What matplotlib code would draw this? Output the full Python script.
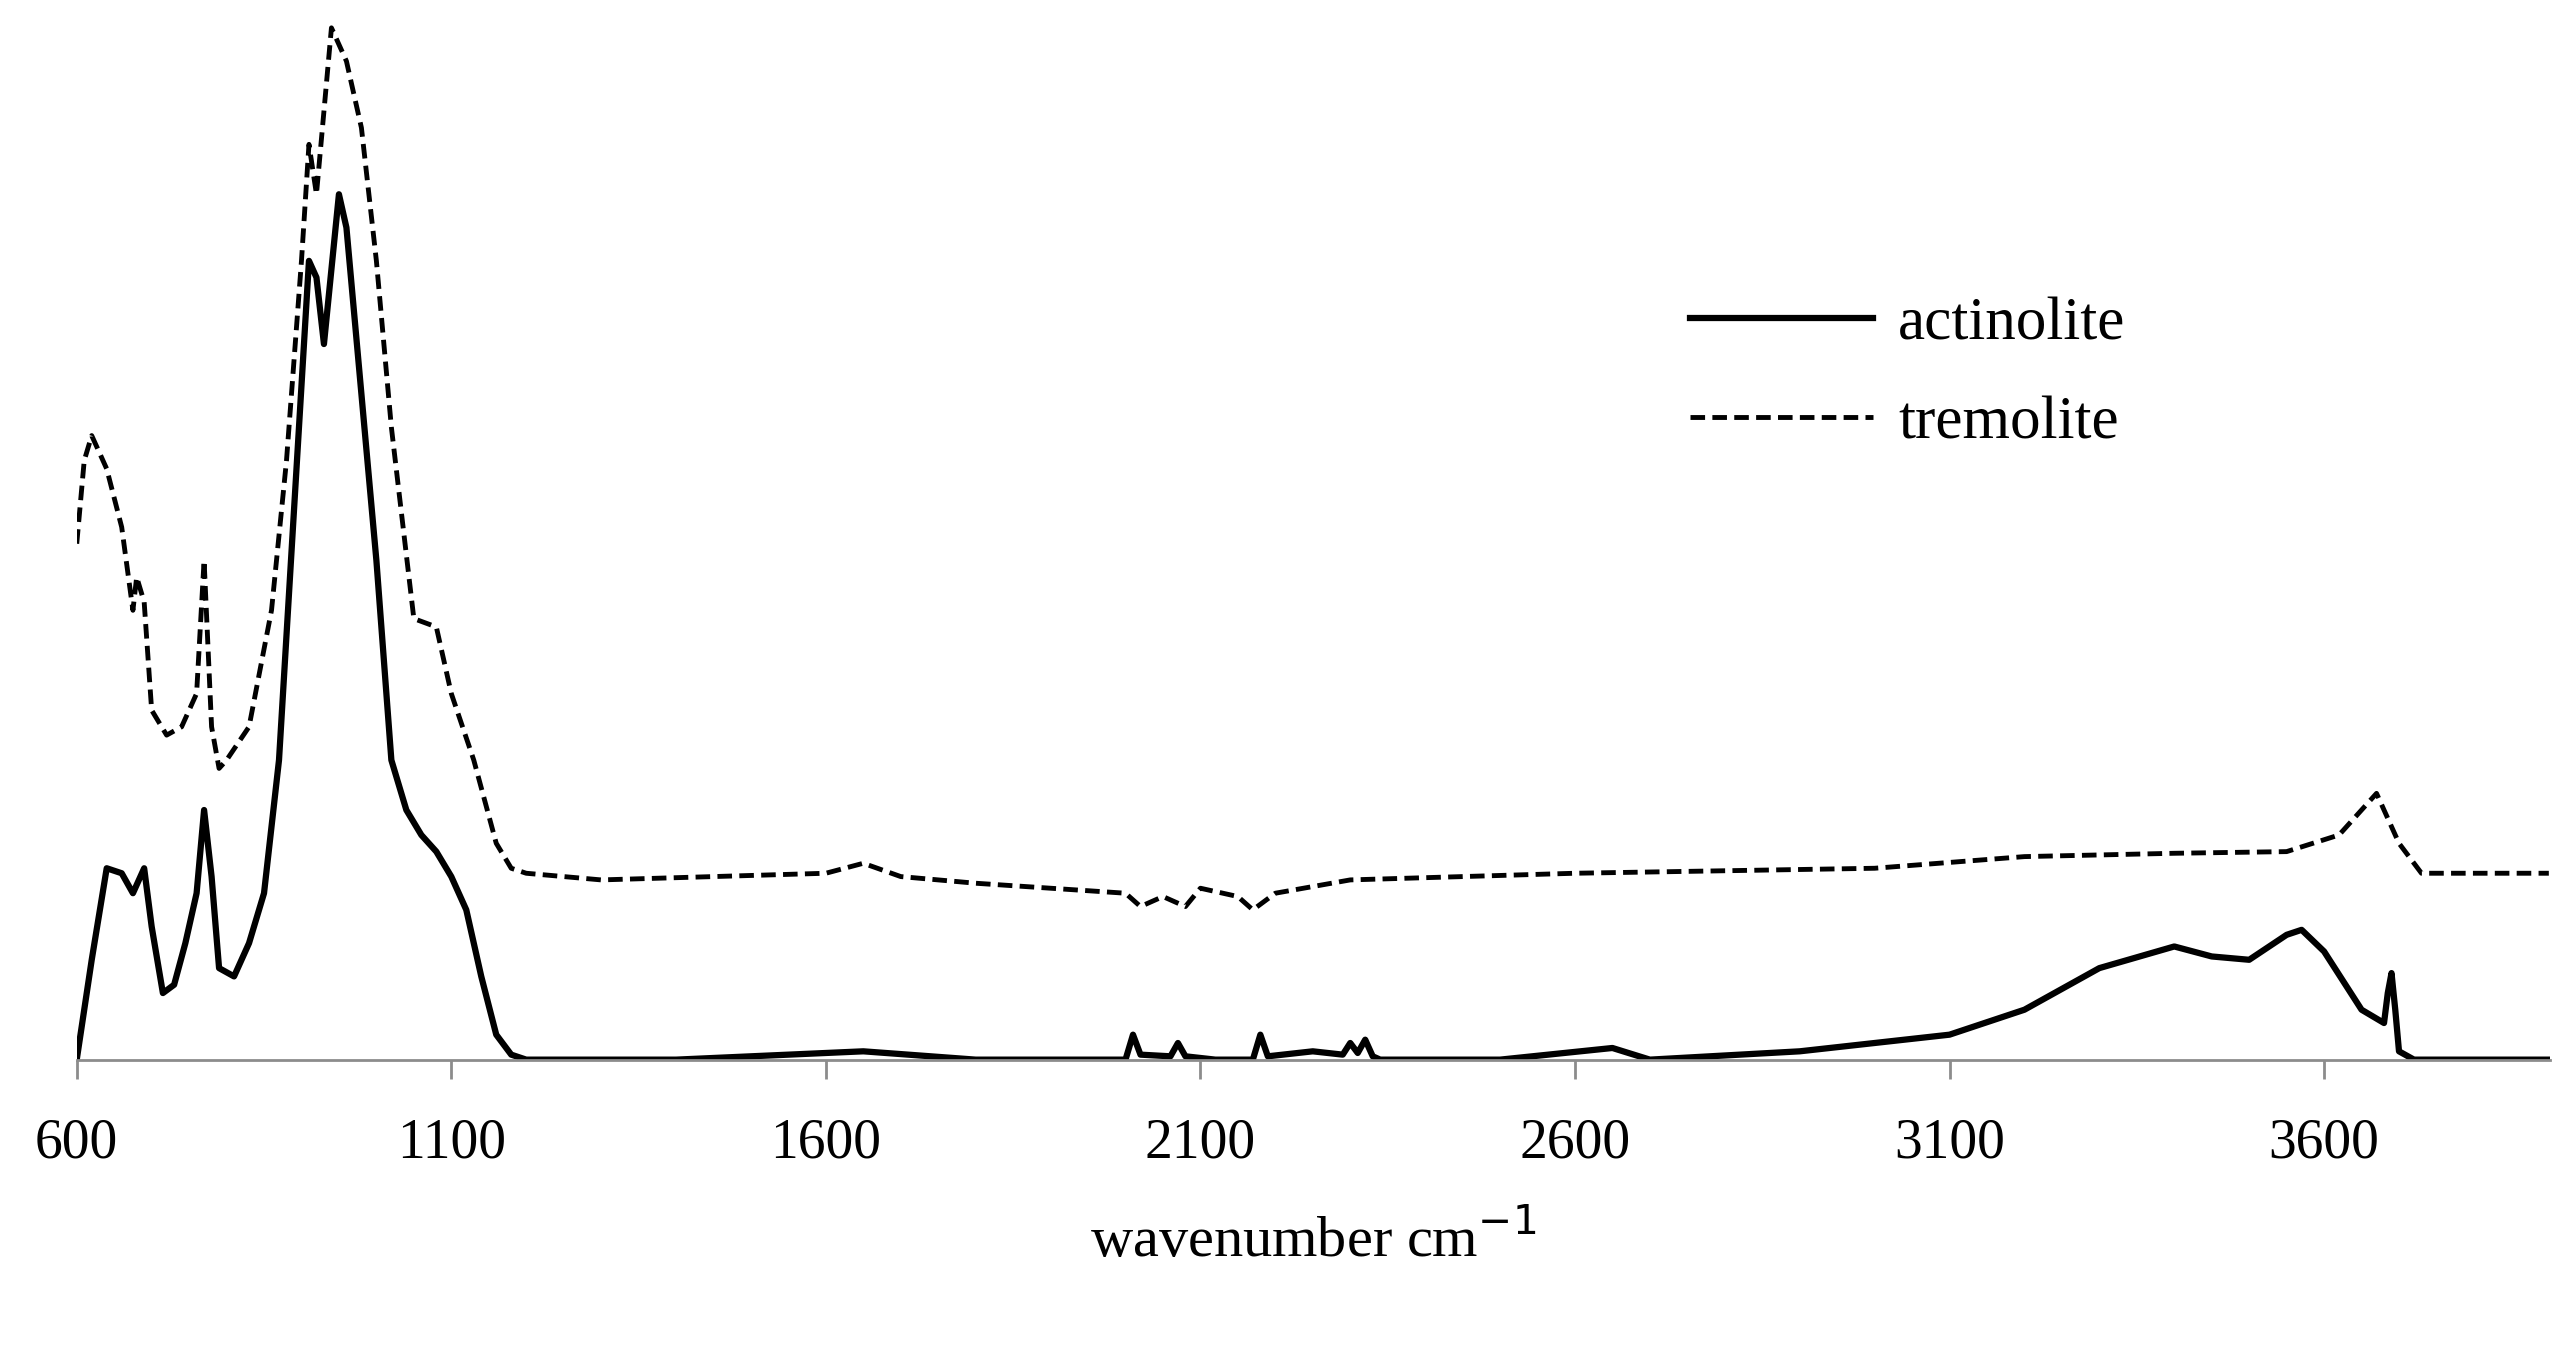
import numpy as np
import matplotlib.pyplot as plt

# spectra (arbitrary absorbance units)
act_x = [600, 620, 640, 660, 675, 690, 700, 715, 730, 745, 760, 770, 780, 790, 810, 830,
         850, 870, 890, 910, 920, 930, 950, 960, 980, 1000, 1020, 1040, 1060, 1080, 1100,
         1120, 1140, 1160, 1180, 1200, 1400, 1650, 1800, 2000, 2010, 2020, 2060, 2070, 2080,
         2120, 2170, 2180, 2190, 2250, 2290, 2300, 2310, 2320, 2330, 2340, 2500, 2650, 2700,
         2900, 3100, 3200, 3300, 3400, 3450, 3500, 3550, 3570, 3600, 3650, 3680, 3685, 3690,
         3695, 3700, 3720, 3900]
act_y = [0, 60, 115, 112, 100, 115, 80, 40, 45, 70, 100, 150, 110, 55, 50, 70,
         100, 180, 330, 480, 470, 430, 520, 500, 400, 300, 180, 150, 135, 125, 110,
         90, 50, 15, 3, 0, 0, 5, 0, 0, 15, 3, 2, 10, 2, 0, 0, 15, 2, 5, 3, 10, 4, 12, 2, 0,
         0, 7, 0, 5, 15, 30, 55, 68, 62, 60, 75, 78, 65, 30, 22, 40, 52, 30, 5, 0, 0]

tre_x = [600, 610, 620, 640, 660, 675, 680, 690, 700, 720, 740, 760, 770, 780, 790, 800,
         830, 860, 880, 900, 910, 920, 940, 960, 980, 1000, 1020, 1050, 1080, 1100, 1130,
         1160, 1180, 1200, 1300, 1600, 1650, 1700, 1800, 2000, 2020, 2050, 2080, 2100, 2150,
         2170, 2200, 2300, 2600, 3000, 3200, 3400, 3550, 3620, 3670, 3700, 3730, 3900]
tre_y = [310, 360, 375, 355, 320, 270, 290, 275, 210, 195, 200, 220, 300, 200, 175, 180,
         200, 270, 360, 480, 550, 520, 620, 600, 560, 480, 380, 265, 260, 220, 180,
         130, 115, 112, 108, 112, 118, 110, 106, 100, 92, 98, 92, 103, 98, 90, 100, 108,
         112, 115, 122, 124, 125, 135, 160, 130, 112, 112]

xticks = [600, 1100, 1600, 2100, 2600, 3100, 3600]

plt.rcParams['font.family'] = ['Liberation Serif', 'DejaVu Serif']

fig = plt.figure(figsize=(25.58, 13.62), dpi=100)
ax = fig.add_axes([0.03, 0.222, 0.967, 0.76])

ax.plot(act_x, act_y, color='black', linewidth=4.5, label='actinolite')
ax.plot(tre_x, tre_y, color='black', linewidth=3.5, linestyle=(0, (3, 1.5)), label='tremolite')

ax.set_xlim(600, 3902)
ax.set_ylim(0, 622)
ax.set_xticks(xticks)
ax.set_yticks([])
for s in ['top', 'right', 'left']:
    ax.spines[s].set_visible(False)
ax.spines['bottom'].set_color('#8c8c8c')
ax.spines['bottom'].set_linewidth(2)
ax.tick_params(axis='x', direction='out', length=14, width=2, color='#8c8c8c',
               labelsize=40, pad=28)
ax.set_xlabel('wavenumber cm$^{-1}$', fontsize=42, labelpad=30)

ax.legend(loc='upper left', bbox_to_anchor=(0.63, 0.79), frameon=False, fontsize=44,
          handlelength=3.0, handletextpad=0.4, labelspacing=0.7)

plt.savefig('out.png', dpi=100)
